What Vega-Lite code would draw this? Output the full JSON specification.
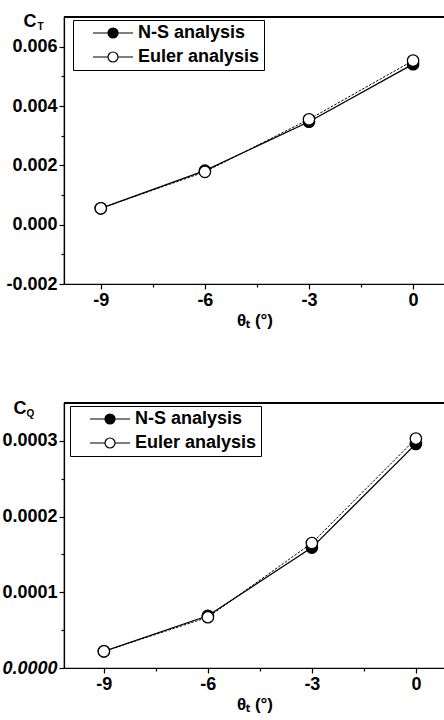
{
  "$schema": "https://vega.github.io/schema/vega-lite/v6.json",
  "padding": {"left": 1, "top": 11, "right": 0, "bottom": 4},
  "spacing": 69,
  "resolve": {"scale": {"fill": "independent"}, "legend": {"fill": "independent"}},
  "config": {
    "font": "Liberation Sans",
    "view": {"stroke": "black", "strokeWidth": 1.2},
    "axis": {
      "grid": false, "domainColor": "black", "tickColor": "black", "labelColor": "black", "titleColor": "black",
      "labelFont": "Liberation Sans", "titleFont": "Liberation Sans",
      "labelFontWeight": "bold", "labelFontSize": 18, "titleFontSize": 17, "titleFontWeight": "bold",
      "tickSize": 5, "labelPadding": 2, "domainWidth": 1.2, "tickWidth": 1.2
    },
    "legend": {
      "disable": false,
      "labelFont": "Liberation Sans", "labelFontSize": 18, "labelFontWeight": "bold", "labelColor": "black",
      "strokeColor": "black", "padding": 4, "rowPadding": 6, "symbolSize": 100,
      "symbolStrokeColor": "black", "symbolStrokeWidth": 1.2, "symbolOffset": 27, "labelOffset": 16,
      "symbolType": "M-4,0 L-1,0 M1,0 L4,0 M-1,0 A1,1 0 1,1 1,0 A1,1 0 1,1 -1,0 Z"
    }
  },
  "datasets": {
    "ct": [
      {"theta": -9, "value": 0.00055, "series": "N-S analysis"},
      {"theta": -6, "value": 0.00182, "series": "N-S analysis"},
      {"theta": -3, "value": 0.00347, "series": "N-S analysis"},
      {"theta": 0, "value": 0.00541, "series": "N-S analysis"},
      {"theta": -9, "value": 0.00055, "series": "Euler analysis"},
      {"theta": -6, "value": 0.00178, "series": "Euler analysis"},
      {"theta": -3, "value": 0.00355, "series": "Euler analysis"},
      {"theta": 0, "value": 0.00553, "series": "Euler analysis"}
    ],
    "cq": [
      {"theta": -9, "value": 0.000022, "series": "N-S analysis"},
      {"theta": -6, "value": 0.000069, "series": "N-S analysis"},
      {"theta": -3, "value": 0.000159, "series": "N-S analysis"},
      {"theta": 0, "value": 0.000296, "series": "N-S analysis"},
      {"theta": -9, "value": 0.000022, "series": "Euler analysis"},
      {"theta": -6, "value": 0.000067, "series": "Euler analysis"},
      {"theta": -3, "value": 0.000165, "series": "Euler analysis"},
      {"theta": 0, "value": 0.000303, "series": "Euler analysis"}
    ]
  },
  "vconcat": [
    {
      "width": 381, "height": 267,
      "data": {"name": "ct"},
      "resolve": {"axis": {"x": "independent", "y": "independent"}},
      "layer": [
        {
          "transform": [{"filter": "datum.series === 'N-S analysis'"}],
          "mark": {"type": "line", "color": "black", "strokeWidth": 1.3},
          "encoding": {
            "x": {"field": "theta", "type": "quantitative",
              "scale": {"domain": [-10.06, 0.92], "nice": false, "zero": false},
              "axis": {"values": [-9, -6, -3, 0], "labelExpr": "replace(datum.label, '−', '-')", "title": "θₜ (°)", "titlePadding": 3}},
            "y": {"field": "value", "type": "quantitative",
              "scale": {"domain": [-0.002, 0.007], "nice": false},
              "axis": {"values": [-0.002, 0, 0.002, 0.004, 0.006], "format": ".3f", "labelExpr": "replace(datum.label, '−', '-')", "title": "C",
                "titleAngle": 0, "titleAlign": "left", "titleBaseline": "alphabetic", "titleX": -41, "titleY": 9, "titleFontSize": 18}}
          }
        },
        {
          "transform": [{"filter": "datum.series === 'Euler analysis'"}],
          "mark": {"type": "line", "color": "black", "strokeWidth": 1, "strokeDash": [2.5, 1.5]},
          "encoding": {
            "x": {"field": "theta", "type": "quantitative", "axis": null},
            "y": {"field": "value", "type": "quantitative", "axis": null}
          }
        },
        {
          "mark": {"type": "rule", "color": "black", "strokeWidth": 1.2},
          "encoding": {
            "y": {"datum": 0.007, "type": "quantitative", "axis": null}
          }
        },
        {
          "mark": {"type": "point", "shape": "circle", "filled": true, "size": 130, "stroke": "black", "strokeWidth": 1.3, "opacity": 1},
          "encoding": {
            "x": {"field": "theta", "type": "quantitative", "axis": null},
            "y": {"field": "value", "type": "quantitative", "axis": null},
            "fill": {"field": "series", "type": "nominal",
              "scale": {"domain": ["N-S analysis", "Euler analysis"], "range": ["black", "white"]},
              "legend": {"disable": false, "title": null, "orient": "none", "legendX": 9, "legendY": 3,
                "encode": {
                  "labels": {"fontStyle": {"value": {"expr": "datum.value === 'Euler analysis' ? 'italic' : 'normal'"}}},
                  "symbols": {"shape": {"value": {"expr": "datum.value === 'Euler analysis' ? 'M-4,0 L-3.6,0 M-3.2,0 L-2.8,0 M-2.4,0 L-2,0 M-1.6,0 L-1.2,0 M1.2,0 L1.6,0 M2,0 L2.4,0 M2.8,0 L3.2,0 M3.6,0 L4,0 M-1,0 A1,1 0 1,1 1,0 A1,1 0 1,1 -1,0 Z' : 'M-4,0 L-1,0 M1,0 L4,0 M-1,0 A1,1 0 1,1 1,0 A1,1 0 1,1 -1,0 Z'"}}}
                }}}
          }
        },
        {
          "mark": {"type": "point", "opacity": 0},
          "encoding": {
            "x": {"field": "theta", "type": "quantitative",
              "axis": {"orient": "bottom", "values": [-7.5, -4.5, -1.5], "labels": false, "domain": false, "tickSize": 3, "title": null}},
            "y": {"field": "value", "type": "quantitative",
              "axis": {"orient": "left", "values": [-0.001, 0.001, 0.003, 0.005], "labels": false, "domain": false, "tickSize": 3,
                "title": "T", "titleAngle": 0, "titleAlign": "left", "titleBaseline": "alphabetic", "titleX": -27, "titleY": 12, "titleFontSize": 10}}
          }
        }
      ]
    },
    {
      "width": 381, "height": 265,
      "data": {"name": "cq"},
      "resolve": {"axis": {"x": "independent", "y": "independent"}},
      "layer": [
        {
          "transform": [{"filter": "datum.series === 'N-S analysis'"}],
          "mark": {"type": "line", "color": "black", "strokeWidth": 1.3},
          "encoding": {
            "x": {"field": "theta", "type": "quantitative",
              "scale": {"domain": [-10.15, 0.84], "nice": false, "zero": false},
              "axis": {"values": [-9, -6, -3, 0], "labelExpr": "replace(datum.label, '−', '-')", "title": "θₜ (°)", "titlePadding": 3}},
            "y": {"field": "value", "type": "quantitative",
              "scale": {"domain": [0, 0.00035], "nice": false},
              "axis": {"values": [0, 0.0001, 0.0002, 0.0003], "format": ".4f", "title": "C",
                "labelFontStyle": {"condition": {"test": "datum.value === 0", "value": "italic"}, "value": "normal"},
                "titleAngle": 0, "titleAlign": "left", "titleBaseline": "alphabetic", "titleX": -51, "titleY": 10, "titleFontSize": 18}}
          }
        },
        {
          "transform": [{"filter": "datum.series === 'Euler analysis'"}],
          "mark": {"type": "line", "color": "black", "strokeWidth": 1, "strokeDash": [2.5, 1.5]},
          "encoding": {
            "x": {"field": "theta", "type": "quantitative", "axis": null},
            "y": {"field": "value", "type": "quantitative", "axis": null}
          }
        },
        {
          "mark": {"type": "rule", "color": "black", "strokeWidth": 1.2},
          "encoding": {
            "y": {"datum": 0.00035, "type": "quantitative", "axis": null}
          }
        },
        {
          "mark": {"type": "point", "shape": "circle", "filled": true, "size": 130, "stroke": "black", "strokeWidth": 1.3, "opacity": 1},
          "encoding": {
            "x": {"field": "theta", "type": "quantitative", "axis": null},
            "y": {"field": "value", "type": "quantitative", "axis": null},
            "fill": {"field": "series", "type": "nominal",
              "scale": {"domain": ["N-S analysis", "Euler analysis"], "range": ["black", "white"]},
              "legend": {"disable": false, "title": null, "orient": "none", "legendX": 6, "legendY": 3,
                "encode": {
                  "labels": {"fontStyle": {"value": {"expr": "datum.value === 'N-S analysis' ? 'italic' : 'normal'"}}},
                  "symbols": {"shape": {"value": {"expr": "datum.value === 'Euler analysis' ? 'M-4,0 L-3.6,0 M-3.2,0 L-2.8,0 M-2.4,0 L-2,0 M-1.6,0 L-1.2,0 M1.2,0 L1.6,0 M2,0 L2.4,0 M2.8,0 L3.2,0 M3.6,0 L4,0 M-1,0 A1,1 0 1,1 1,0 A1,1 0 1,1 -1,0 Z' : 'M-4,0 L-1,0 M1,0 L4,0 M-1,0 A1,1 0 1,1 1,0 A1,1 0 1,1 -1,0 Z'"}}}
                }}}
          }
        },
        {
          "mark": {"type": "point", "opacity": 0},
          "encoding": {
            "x": {"field": "theta", "type": "quantitative",
              "axis": {"orient": "bottom", "values": [-7.5, -4.5, -1.5], "labels": false, "domain": false, "tickSize": 3, "title": null}},
            "y": {"field": "value", "type": "quantitative",
              "axis": {"orient": "left", "values": [0.00005, 0.00015, 0.00025], "labels": false, "domain": false, "tickSize": 3,
                "title": "Q", "titleAngle": 0, "titleAlign": "left", "titleBaseline": "alphabetic", "titleX": -38, "titleY": 13, "titleFontSize": 10}}
          }
        }
      ]
    }
  ]
}
